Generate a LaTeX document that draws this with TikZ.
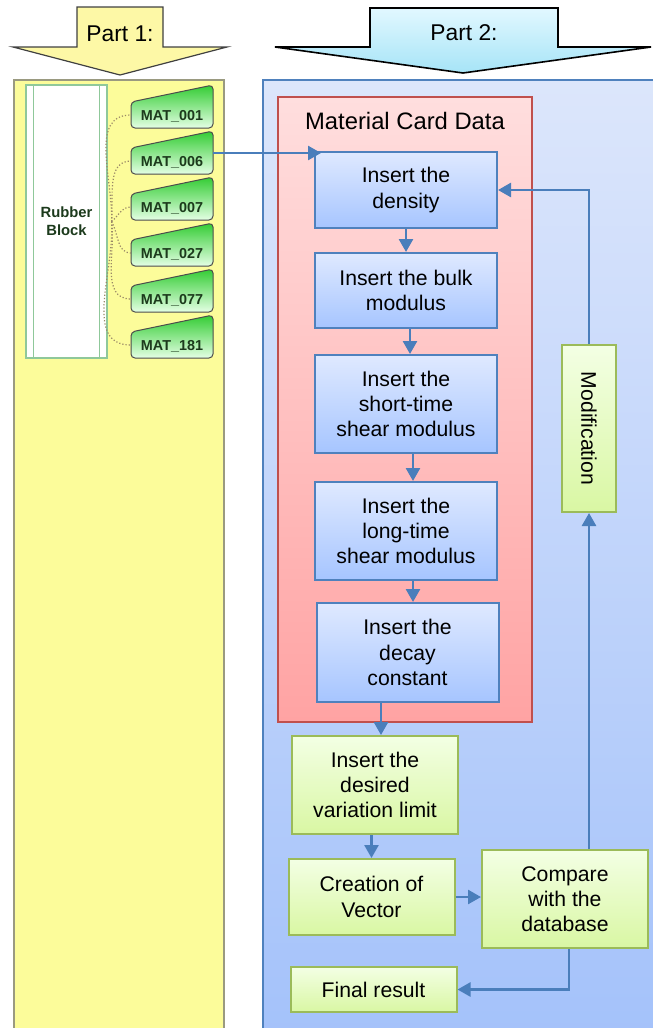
\documentclass[tikz,border=0pt]{standalone}
\usepackage{fontspec}
\setmainfont{Liberation Sans}
\usetikzlibrary{arrows.meta,calc}
\definecolor{yellowpanel}{HTML}{FCFC9A}
\definecolor{panelline}{HTML}{9A9A80}
\definecolor{arrowyellow}{HTML}{FDF8A6}
\definecolor{cyanTop}{HTML}{E2F8FF}
\definecolor{cyanBot}{HTML}{A6E4F7}
\definecolor{panelTop}{HTML}{DCE6FB}
\definecolor{panelBot}{HTML}{A4C2FA}
\definecolor{boxblue}{HTML}{4F81BD}
\definecolor{redTop}{HTML}{FFDEDE}
\definecolor{redBot}{HTML}{FFA3A3}
\definecolor{redline}{HTML}{C0504D}
\definecolor{blueTop}{HTML}{DFE9FF}
\definecolor{blueBot}{HTML}{A6C5FF}
\definecolor{greenTop}{HTML}{F3FFE4}
\definecolor{greenBot}{HTML}{D9F7A3}
\definecolor{boxgreen}{HTML}{9BBB59}
\definecolor{flowblue}{HTML}{4A7EBB}
\definecolor{matTop}{HTML}{33CC33}
\definecolor{matBot}{HTML}{E4FFE4}
\definecolor{textgreen}{HTML}{1C3A1C}
\definecolor{rubberline}{HTML}{8FC89A}
\definecolor{dotbrown}{HTML}{998866}

\begin{document}
\begin{tikzpicture}[x=0.5pt,y=-0.5pt,
            >={Triangle[length=6.5pt,width=7pt]},
            every node/.style={inner sep=2pt,font=\fontsize{10.6}{12.6}\selectfont},
            bluebox/.style={draw=boxblue,line width=1pt,top color=blueTop,bottom color=blueBot,align=center,minimum width=91pt},
            greenbox/.style={draw=boxgreen,line width=1pt,top color=greenTop,bottom color=greenBot,align=center,minimum width=83pt},
            flow/.style={->,color=flowblue,line width=1.3pt},
            matcard/.style={draw=black!70,line width=0.5pt,rounded corners=2pt,top color=matTop,bottom color=matBot},
            matlabel/.style={font=\fontsize{7.2}{8}\selectfont\bfseries,text=textgreen},
            dotlink/.style={densely dotted,draw=dotbrown,line width=0.6pt}]
            \useasboundingbox (0,0) rectangle (653,1028);
            % part 1
            \draw[fill=yellowpanel,draw=panelline,line width=0.6pt](14,80)rectangle(224,1036);
            \draw[fill=arrowyellow,draw=black!75,line width=0.6pt](77,7)--(163,7)--(163,47)--(227,47)--(120,75)--(13,47)--(77,47)--cycle;
            \node[font=\fontsize{11.4}{13}\selectfont] (part1) at (120,34){Part 1:};
            \node[draw=rubberline,fill=white,line width=0.6pt,minimum width=40.5pt,minimum height=136.5pt,align=center,
              font=\fontsize{7.4}{9}\selectfont\bfseries,text=textgreen] (rubber) at (66.5,221.5){Rubber\\Block};
            \draw[rubberline,line width=0.6pt]([xshift=4pt]rubber.north west)--([xshift=4pt]rubber.south west);
            \draw[rubberline,line width=0.6pt]([xshift=-4pt]rubber.north east)--([xshift=-4pt]rubber.south east);
            \coordinate (hub) at ([xshift=2pt]rubber.east);
            \foreach \i/\lab/\a in {0/001/88,1/006/85,2/007/40,3/027/-60,4/077/-82,5/181/-86}{
              \draw[matcard](131,{128+46*\i})--(131,{102+46*\i})--(213,{85+46*\i})--(213,{128+46*\i})--cycle;
              \node[matlabel] (mat\lab) at (172,{116+46*\i}){MAT\_\lab};
              \coordinate (link\i) at (131,{115+46*\i});
              \draw[dotlink](hub)to[out=\a,in=180](link\i);
            }
            \coordinate (m006e) at (213,153);
            % part 2
            \draw[top color=panelTop,bottom color=panelBot,draw=boxblue,line width=1pt](263,80)rectangle(662,1036);
            \draw[top color=cyanTop,bottom color=cyanBot,draw=black,line width=0.8pt](370,8)--(558,8)--(558,47)--(651,47)--(463,73)--(275,47)--(370,47)--cycle;
            \node[font=\fontsize{11.4}{13}\selectfont] (part2) at (464,33){Part 2:};
            \draw[top color=redTop,bottom color=redBot,draw=redline,line width=1pt](278,97)rectangle(532,722);
            \node[font=\fontsize{11.9}{14}\selectfont] (mcd) at (405,121){Material Card Data};
            \node[bluebox,minimum height=38pt] (dens) at (406,190){Insert the\\density};
            \node[bluebox,minimum height=37.5pt] (bulk) at (406,290.5){Insert the bulk\\modulus};
            \node[bluebox,minimum height=49pt] (shrt) at (406,404){Insert the\\short-time\\shear modulus};
            \node[bluebox,minimum height=49pt] (lng) at (406,531){Insert the\\long-time\\shear modulus};
            \node[bluebox,minimum height=49.5pt] (decay) at (407.5,652.5){Insert the\\decay\\constant};
            \node[greenbox,minimum height=49pt] (limit) at (375,785){Insert the\\desired\\variation limit};
            \node[greenbox,minimum height=38pt] (vector) at (371.5,897){Creation of\\Vector};
            \node[greenbox,minimum height=49pt] (compare) at (565,899){Compare\\with the\\database};
            \node[greenbox,minimum height=22.5pt] (final) at (373.5,989.5){Final result};
            \node[greenbox,rotate=-90,minimum width=83.5pt,minimum height=27pt] (modif) at (589,428.5){Modification};
            % connectors
            \coordinate (dtip) at ([xshift=3.5pt]dens.north west);
            \coordinate (dout) at ([xshift=-13.25pt]decay.south);
            \draw[flow](m006e)--(dtip |- m006e);
            \draw[flow](dens)--(bulk);
            \draw[flow]([xshift=2pt]bulk.south)--([xshift=2pt]shrt.north);
            \draw[flow]([xshift=3.5pt]shrt.south)--([xshift=3.5pt]lng.north);
            \draw[flow]([xshift=3.5pt]lng.south)--([xshift=2.75pt]decay.north);
            \draw[flow](dout)--(dout |- limit.north);
            \draw[flow](vector.north |- limit.south)--(vector.north);
            \draw[flow](vector.east)--(vector.east -| compare.west);
            \draw[flow]([xshift=2pt]compare.south)|-(final.east);
            \draw[flow](modif.east |- compare.north)--(modif.east);
            \draw[flow](modif.west)|-(dens.east);
          \end{tikzpicture}
\end{document}
